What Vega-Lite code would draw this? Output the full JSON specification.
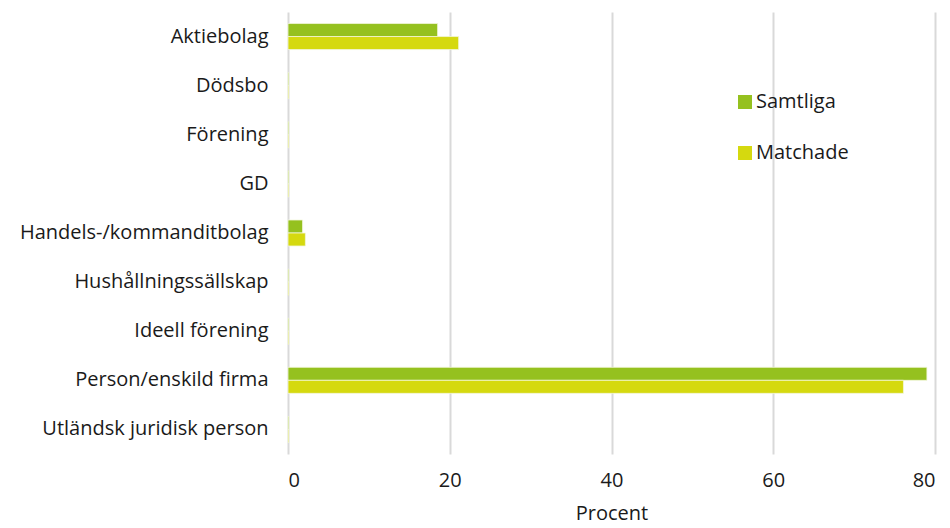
{
  "$schema": "https://vega.github.io/schema/vega-lite/v6.json",
  "autosize": "none",
  "width": 647,
  "height": 442,
  "padding": {"left": 288, "top": 12, "right": 15, "bottom": 74},
  "background": "white",
  "data": {
    "values": [
      {"kategori": "Aktiebolag", "serie": "Samtliga", "procent": 18.5},
      {"kategori": "Aktiebolag", "serie": "Matchade", "procent": 21.1},
      {"kategori": "Dödsbo", "serie": "Samtliga", "procent": 0.1},
      {"kategori": "Dödsbo", "serie": "Matchade", "procent": 0.1},
      {"kategori": "Förening", "serie": "Samtliga", "procent": 0.1},
      {"kategori": "Förening", "serie": "Matchade", "procent": 0.1},
      {"kategori": "GD", "serie": "Samtliga", "procent": 0.1},
      {"kategori": "GD", "serie": "Matchade", "procent": 0.1},
      {"kategori": "Handels-/kommanditbolag", "serie": "Samtliga", "procent": 1.8},
      {"kategori": "Handels-/kommanditbolag", "serie": "Matchade", "procent": 2.15},
      {"kategori": "Hushållningssällskap", "serie": "Samtliga", "procent": 0.1},
      {"kategori": "Hushållningssällskap", "serie": "Matchade", "procent": 0.1},
      {"kategori": "Ideell förening", "serie": "Samtliga", "procent": 0.1},
      {"kategori": "Ideell förening", "serie": "Matchade", "procent": 0.1},
      {"kategori": "Person/enskild firma", "serie": "Samtliga", "procent": 79.0},
      {"kategori": "Person/enskild firma", "serie": "Matchade", "procent": 76.1},
      {"kategori": "Utländsk juridisk person", "serie": "Samtliga", "procent": 0.1},
      {"kategori": "Utländsk juridisk person", "serie": "Matchade", "procent": 0.1}
    ]
  },
  "mark": {"type": "bar", "stroke": "#f3f6dc", "strokeWidth": 0.8},
  "encoding": {
    "y": {
      "field": "kategori",
      "type": "nominal",
      "sort": null,
      "scale": {"paddingInner": 0.47, "paddingOuter": 0.235},
      "axis": {
        "title": null,
        "domain": false,
        "ticks": false,
        "labelPadding": 20,
        "labelFont": "Open Sans",
        "labelFontSize": 20,
        "labelColor": "#1a1a1a",
        "labelLimit": 300
      }
    },
    "yOffset": {
      "field": "serie",
      "type": "nominal",
      "sort": ["Samtliga", "Matchade"],
      "scale": {"paddingInner": 0, "paddingOuter": 0}
    },
    "x": {
      "field": "procent",
      "type": "quantitative",
      "scale": {"domain": [0, 80], "nice": false},
      "axis": {
        "title": "Procent",
        "values": [0, 20, 40, 60, 80],
        "domain": false,
        "ticks": false,
        "grid": true,
        "gridColor": "#d9d9d9",
        "gridWidth": 2,
        "labelPadding": 16,
        "labelFont": "Open Sans",
        "labelFontSize": 20,
        "labelColor": "#1a1a1a",
        "titleFont": "Open Sans",
        "titleFontSize": 20,
        "titleFontWeight": "normal",
        "titleColor": "#1a1a1a",
        "titlePadding": 13
      }
    },
    "color": {
      "field": "serie",
      "type": "nominal",
      "sort": ["Samtliga", "Matchade"],
      "scale": {"domain": ["Samtliga", "Matchade"], "range": ["#95c11f", "#d5d90f"]},
      "legend": {
        "title": null,
        "orient": "none",
        "legendX": 447,
        "legendY": 80,
        "symbolType": "square",
        "symbolSize": 196,
        "symbolStrokeWidth": 0,
        "labelFont": "Open Sans",
        "labelFontSize": 20,
        "labelColor": "#1a1a1a",
        "labelOffset": 1,
        "rowPadding": 31
      }
    }
  },
  "config": {"view": {"stroke": null}}
}
